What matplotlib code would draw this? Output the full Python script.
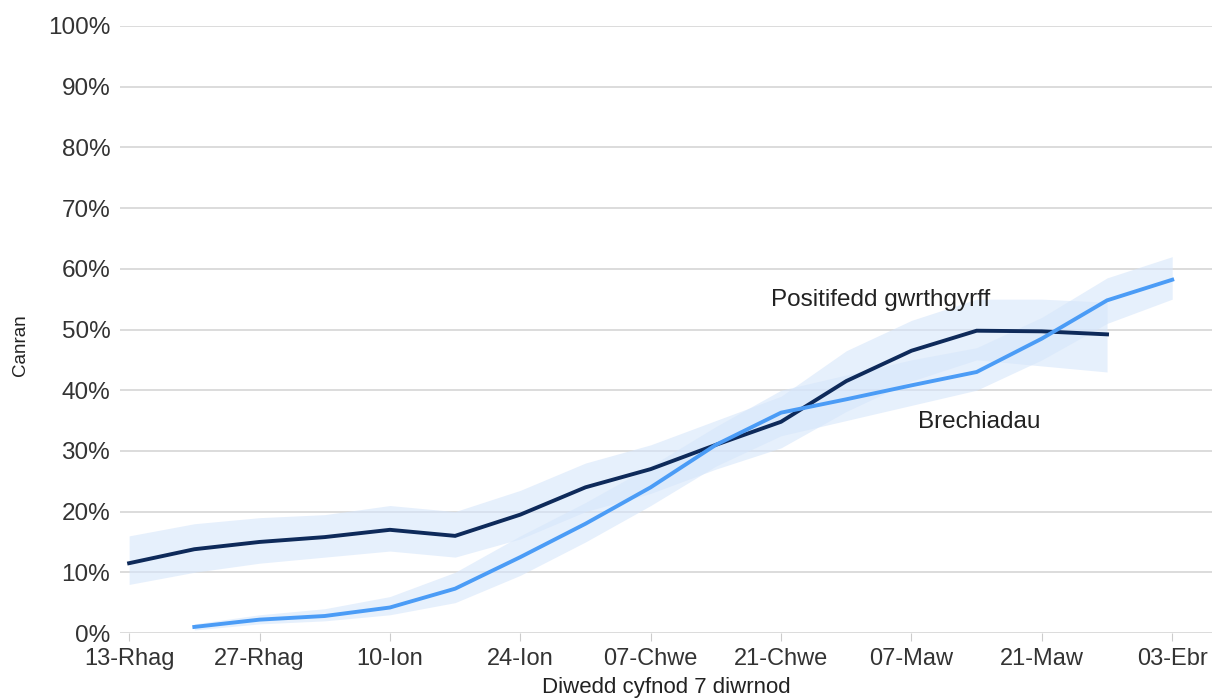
import matplotlib
matplotlib.use("Agg")
import matplotlib.pyplot as plt
import numpy as np

plt.rcParams['font.family'] = ['Liberation Sans', 'DejaVu Sans']

weeks = ["13-Rhag", "20-Rhag", "27-Rhag", "03-Ion", "10-Ion", "17-Ion", "24-Ion", "31-Ion",
         "07-Chwe", "14-Chwe", "21-Chwe", "28-Chwe", "07-Maw", "14-Maw", "21-Maw", "28-Maw", "03-Ebr"]

# Positifedd gwrthgyrff (antibody positivity), weeks 0..15
antibody = [11.5, 13.8, 15.0, 15.8, 17.0, 16.0, 19.5, 24.0, 27.0, 31.0, 34.8, 41.5, 46.5, 49.8, 49.7, 49.2]
antibody_low = [8.0, 10.0, 11.5, 12.5, 13.5, 12.5, 15.5, 20.0, 23.0, 27.0, 30.5, 36.5, 41.5, 45.0, 44.0, 43.0]
antibody_high = [16.0, 18.0, 19.0, 19.5, 21.0, 20.0, 23.5, 28.0, 31.0, 35.0, 39.0, 46.5, 51.5, 55.0, 55.0, 54.5]

# Brechiadau (vaccinations), weeks 1..16
vacc = [1.0, 2.2, 2.8, 4.2, 7.3, 12.5, 18.0, 24.0, 31.0, 36.3, 38.5, 40.8, 43.0, 48.5, 54.8, 58.2]
vacc_low = [0.5, 1.5, 2.0, 3.0, 5.0, 9.5, 15.0, 21.0, 27.5, 32.5, 35.0, 37.5, 40.0, 45.0, 51.0, 55.0]
vacc_high = [1.5, 3.0, 4.0, 6.0, 10.0, 16.0, 21.5, 27.5, 34.0, 40.0, 42.5, 45.0, 47.0, 52.0, 58.5, 62.0]

yticks = [0, 10, 20, 30, 40, 50, 60, 70, 80, 90, 100]

W, H = 1222, 698
fig = plt.figure(figsize=(W / 100, H / 100), dpi=100)
ax = fig.add_axes([120 / W, (H - 633) / H, (1212 - 120) / W, (633 - 26) / H])

x_all = np.arange(len(weeks))
xa = x_all[:len(antibody)]
xv = x_all[1:1 + len(vacc)]

band_col = "#d6e6fb"
ax.fill_between(xa, antibody_low, antibody_high, color=band_col, alpha=0.6, lw=0, zorder=1)
ax.fill_between(xv, vacc_low, vacc_high, color=band_col, alpha=0.6, lw=0, zorder=1)

ax.plot(xa, antibody, color="#0e2a5a", lw=2.8, zorder=3, solid_joinstyle='miter')
ax.plot(xv, vacc, color="#4b9cf6", lw=2.8, zorder=3, solid_joinstyle='miter')

ax.set_ylim(0, 100)
ax.set_xlim(-0.14, 16.61)
ax.set_yticks(yticks)
ax.set_yticklabels([f"{t}%" for t in yticks], fontsize=17.5, color="#333333")
ax.set_xticks(x_all[::2])
ax.set_xticklabels(weeks[::2], fontsize=17, color="#333333")
ax.tick_params(axis='y', length=0, pad=7)
ax.tick_params(axis='x', length=6, color="#cccccc", pad=5)

ax.grid(axis='y', color="#d9d9d9", lw=1.3, zorder=0)
ax.set_axisbelow(True)
for s in ax.spines.values():
    s.set_visible(False)

ax.set_ylabel("Canran", fontsize=13.5, color="#222222")
ax.yaxis.set_label_coords(20 / W, (H - 345) / H, transform=fig.transFigure)
ax.set_xlabel("Diwedd cyfnod 7 diwrnod", fontsize=16, color="#222222")
ax.xaxis.set_label_coords(666 / W, (H - 688) / H, transform=fig.transFigure)
ax.xaxis.label.set_va('center')
ax.yaxis.label.set_va('center')

ax.text(9.85, 54.9, "Positifedd gwrthgyrff", fontsize=17.5, color="#222222", va='center', ha='left')
ax.text(12.1, 34.8, "Brechiadau", fontsize=17.5, color="#222222", va='center', ha='left')

fig.savefig("out.png", dpi=100)
